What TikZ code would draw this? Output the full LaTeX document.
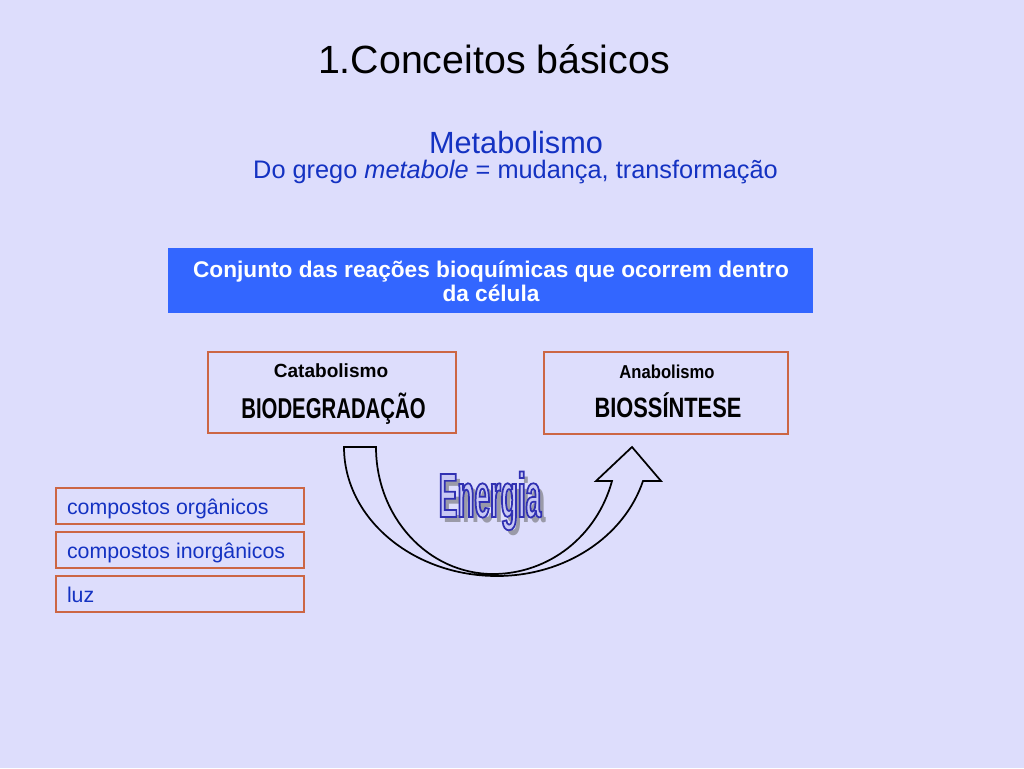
\documentclass[tikz,border=0pt]{standalone}
\usepackage{fontspec}
\setmainfont{Liberation Sans}
\newfontfamily\stretchA{Liberation Sans}[FakeStretch=0.71]
\newfontfamily\stretchB{Liberation Sans}[FakeStretch=0.78]
\newfontfamily\stretchC{Liberation Sans}[FakeStretch=0.89]
\newfontfamily\energiafont{Liberation Sans}[FakeStretch=0.445]
\definecolor{bgcol}{HTML}{DDDDFC}
\definecolor{textblue}{HTML}{1432C2}
\definecolor{boxblue}{HTML}{3366FF}
\definecolor{bordercol}{HTML}{CC6644}
\definecolor{energyfill}{HTML}{C8C8F4}
\definecolor{shadowgray}{HTML}{9A9AA8}
\newcommand{\fsz}[1]{\fontsize{#1}{#1}\selectfont}
\newcommand{\outlinetext}[1]{\special{pdf:code 2 Tr 1.3 w 0.19 0.19 0.70 RG}#1\special{pdf:code 0 Tr}}
\begin{document}
\begin{tikzpicture}[x=0.75pt,y=-0.75pt,
  pbox/.style args={#1/#2}{draw=bordercol, line width=0.8pt, rectangle, inner sep=0pt, outer sep=0pt,
     minimum width=#1*0.75pt, minimum height=#2*0.75pt},
  txt/.style={anchor=base, inner sep=0pt, outer sep=0pt},
  listtxt/.style={anchor=base west, inner sep=0pt, outer sep=0pt, text=textblue, font=\fsz{16}},
  energ/.style={anchor=base, inner sep=0pt, outer sep=0pt, font=\fsz{47}\energiafont\bfseries},
]
\fill[bgcol] (0,0) rectangle (1024,768);
\useasboundingbox (0,0) rectangle (1024,768);

% titles
\node[txt, font=\fsz{29.5}] (title) at (494,73) {1.Conceitos básicos};
\node[txt, font=\fsz{23}, text=textblue] (meta) at (516,153) {Metabolismo};
\node[txt, font=\fsz{19}, text=textblue] (grego) at (515.5,178) {Do grego \textit{metabole} = mudança, transformação};

% definition box
\node[rectangle, fill=boxblue, inner sep=0pt, minimum width=645*0.75pt, minimum height=65*0.75pt] (def) at (490.5,280.5) {};
\node[txt, text=white, font=\fsz{17}\bfseries] (def1) at (491,277) {Conjunto das reações bioquímicas que ocorrem dentro};
\node[txt, text=white, font=\fsz{17}\bfseries] (def2) at (491,301) {da célula};

% catabolism / anabolism boxes
\node[pbox=248/81] (cat) at (332,392.5) {};
\node[txt, font=\fsz{14.3}\bfseries] (cat1) at (331,377.3) {Catabolismo};
\node[txt, font=\fsz{21.5}\stretchA\bfseries] (cat2) at (333.5,418.3) {BIODEGRADAÇÃO};

\node[pbox=244/82] (ana) at (666,393) {};
\node[txt, font=\fsz{14}\stretchC\bfseries] (ana1) at (667,378.3) {Anabolismo};
\node[txt, font=\fsz{21}\stretchB\bfseries] (ana2) at (668,417.3) {BIOSSÍNTESE};

% list boxes
\node[pbox=248/36] (org) at (180,506) {};
\node[listtxt] (orgt) at (67,514) {compostos orgânicos};
\node[pbox=248/36] (inorg) at (180,550) {};
\node[listtxt] (inorgt) at (67,558) {compostos inorgânicos};
\node[pbox=248/36] (luz) at (180,594) {};
\node[listtxt] (luzt) at (67,602) {luz};

% curved up arrow
\draw[line width=1.3pt, line join=miter]
  (344,447) -- (376,447)
  .. controls (376,517) and (428,574) .. (493,574)
  .. controls (549,574) and (597,536) .. (612,481)
  -- (596,481) -- (632,447) -- (661,481) -- (643,481)
  .. controls (624,537) and (565,576) .. (497,576)
  .. controls (412.5,576) and (344,518) .. (344,447) -- cycle;

% Energia word art
\node[energ, text=shadowgray] (eshadow) at (495,522) {Energia};
\node[energ, text=energyfill] (energia) at (490,517) {\outlinetext{Energia}};
\end{tikzpicture}
\end{document}
